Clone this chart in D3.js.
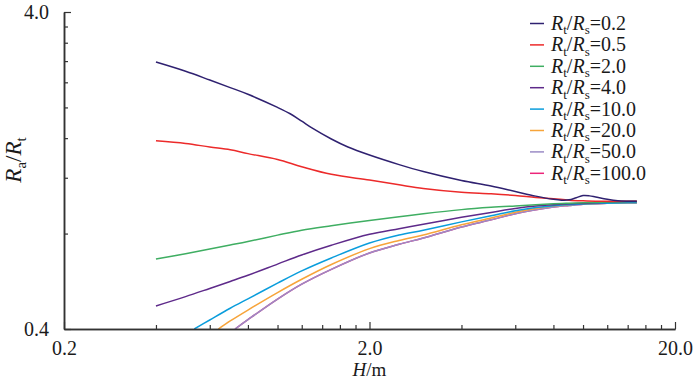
<!DOCTYPE html>
<html>
<head>
<meta charset="utf-8">
<script src="https://cdn.jsdelivr.net/npm/d3@7/dist/d3.min.js"></script>
<style>
  body { margin: 0; background: #fff; }
  text { font-family: "Liberation Serif", "DejaVu Serif", serif; fill: #1a1a1a; }
</style>
</head>
<body>
<svg id="chart" width="700" height="386"></svg>
<script>
const serif = '"Liberation Serif", "DejaVu Serif", serif';

// legend labels (Rt/Rs ratio) and colours
const ratios = ["0.2", "0.5", "2.0", "4.0", "10.0", "20.0", "50.0", "100.0"];
const colors = ["#2f2170", "#ec2a2a", "#3fae62", "#5e2a8a", "#0a9ddc", "#f7a43a", "#9b8cc6", "#ec2579"];

// H values (m) and Ra/Rt
const hMain = [0.4, 0.5, 0.6, 0.7, 0.8, 1.0, 1.2, 1.5, 2.0, 2.5, 3, 4, 5, 6, 7, 8, 9, 10, 11, 12, 13, 14, 15];
const h02 = [0.4, 0.5, 0.6, 0.7, 0.8, 1.0, 1.1, 1.2, 1.3, 1.5, 1.7, 2.0, 2.5, 3, 4, 5, 6, 7, 8, 8.5, 9, 9.5, 10, 10.5, 11, 12, 13, 14, 15];
const r02 = [2.78, 2.60, 2.44, 2.31, 2.20, 2.00, 1.91, 1.81, 1.72, 1.59, 1.50, 1.415, 1.32, 1.255, 1.176, 1.13, 1.086, 1.05, 1.026, 1.02, 1.022, 1.038, 1.054, 1.052, 1.043, 1.026, 1.015, 1.012, 1.012];
const r05 = [1.57, 1.54, 1.50, 1.47, 1.43, 1.37, 1.30, 1.23, 1.18, 1.14, 1.11, 1.08, 1.068, 1.055, 1.04, 1.03, 1.02, 1.015, 1.012, 1.012, 1.012, 1.012, 1.012];
const r2 = [0.665, 0.691, 0.715, 0.736, 0.755, 0.791, 0.820, 0.847, 0.880, 0.904, 0.924, 0.952, 0.968, 0.978, 0.986, 0.993, 0.997, 1.0, 1.003, 1.006, 1.008, 1.01, 1.01];
const r4 = [0.473, 0.506, 0.537, 0.565, 0.591, 0.641, 0.685, 0.735, 0.796, 0.829, 0.856, 0.900, 0.933, 0.960, 0.977, 0.986, 0.993, 0.996, 1.0, 1.005, 1.008, 1.01, 1.01];
const h10 = [0.534, 0.6, 0.7, 0.8, 1.0, 1.2, 1.5, 2.0, 2.5, 3, 4, 5, 6, 7, 8, 9, 10, 11, 12, 13, 14, 15];
const r10 = [0.40, 0.427, 0.465, 0.498, 0.558, 0.610, 0.670, 0.747, 0.792, 0.820, 0.871, 0.910, 0.944, 0.967, 0.980, 0.987, 0.992, 0.995, 0.997, 0.999, 1.0, 1.0];
const h20 = [0.64, 0.7, 0.8, 1.0, 1.2, 1.5, 2.0, 2.5, 3, 4, 5, 6, 7, 8, 9, 10, 11, 12, 13, 14, 15];
const r20 = [0.40, 0.424, 0.459, 0.521, 0.574, 0.639, 0.717, 0.761, 0.792, 0.853, 0.896, 0.934, 0.960, 0.977, 0.986, 0.992, 0.995, 0.997, 0.999, 1.0, 1.0];
const h50 = [0.726, 0.8, 1.0, 1.2, 1.5, 2.0, 2.5, 3, 4, 5, 6, 7, 8, 9, 10, 11, 12, 13, 14, 15];
const r50 = [0.40, 0.428, 0.497, 0.554, 0.617, 0.695, 0.740, 0.775, 0.839, 0.884, 0.924, 0.951, 0.970, 0.981, 0.990, 0.994, 0.997, 0.999, 1.0, 1.0];
const r100 = [0.40, 0.428, 0.497, 0.554, 0.617, 0.695, 0.740, 0.775, 0.839, 0.884, 0.924, 0.951, 0.970, 0.981, 0.990, 0.994, 0.997, 0.999, 1.0, 1.0];

// tick values
const xMajor = [0.2, 2, 20];
const xMinor = [0.4, 0.6, 0.8, 1.0, 1.2, 1.4, 1.6, 1.8, 4, 6, 8, 10, 12, 14, 16, 18];
const yMajor = [0.4, 4];
const yMinor = [0.8, 1.2, 1.6, 2.0, 2.4, 2.8, 3.2, 3.6];

const seriesH = [h02, hMain, hMain, hMain, h10, h20, h50, h50];
const seriesR = [r02, r05, r2, r4, r10, r20, r50, r100];

const svg = d3.select("#chart");
const margin = { top: 12, right: 25, bottom: 57, left: 64 };
const width = 700 - margin.left - margin.right;
const height = 386 - margin.top - margin.bottom;

const g = svg.append("g").attr("transform", `translate(${margin.left},${margin.top})`);

const x = d3.scaleLog().domain([0.2, 20]).range([0, width]);
const y = d3.scaleLog().domain([0.4, 4]).range([height, 0]);

g.append("clipPath").attr("id", "plotClip")
  .append("rect").attr("width", width + 10).attr("height", height).attr("y", 0);

const line = d3.line()
  .x(d => x(d[0]))
  .y(d => y(d[1]))
  .curve(d3.curveCatmullRom.alpha(0.5));

// draw last series first so the first ones sit on top
const lines = g.append("g").attr("clip-path", "url(#plotClip)");
for (let i = ratios.length - 1; i >= 0; i--) {
  const pts = seriesH[i].map((h, j) => [h, seriesR[i][j]]);
  lines.append("path")
    .datum(pts)
    .attr("fill", "none")
    .attr("stroke", colors[i])
    .attr("stroke-width", 1.5)
    .attr("d", line);
}

// axes: minor ticks without labels, major ticks with labels, all pointing inward
const axisColor = "#333";
function styleAxis(sel) {
  sel.attr("font-family", serif).attr("font-size", 20);
  sel.select(".domain").attr("stroke", axisColor).attr("stroke-width", 1.5);
  sel.selectAll(".tick line").attr("stroke", axisColor).attr("stroke-width", 1.2);
  sel.selectAll(".tick text").attr("fill", "#1a1a1a")
    .style("font-family", serif)
    .style("font-size", "20px");
}

g.append("g")
  .attr("transform", `translate(0,${height})`)
  .call(d3.axisBottom(x).tickValues(xMinor).tickSize(-4).tickFormat("").tickSizeOuter(0))
  .call(styleAxis);
g.append("g")
  .attr("transform", `translate(0,${height})`)
  .call(d3.axisBottom(x).tickValues(xMajor).tickSize(-7).tickSizeOuter(0).tickPadding(12).tickFormat(d3.format(".1f")))
  .call(styleAxis);

g.append("g")
  .call(d3.axisLeft(y).tickValues(yMinor).tickSize(-4).tickFormat("").tickSizeOuter(0))
  .call(styleAxis);
g.append("g")
  .call(d3.axisLeft(y).tickValues(yMajor).tickSize(-7).tickSizeOuter(0).tickPadding(15).tickFormat(d3.format(".1f")))
  .call(styleAxis);

// helper for R_x style labels
function ratioText(sel, parts, size) {
  sel.attr("font-family", serif).style("font-family", serif);
  parts.forEach(p => {
    const t = sel.append("tspan").text(p.t);
    if (p.i) t.style("font-style", "italic");
    if (p.sub) t.attr("font-size", size * 0.65).attr("dy", size * 0.22);
    else if (p.after) t.attr("dy", -size * 0.22);
  });
}

// axis titles
const xTitle = g.append("text")
  .attr("x", x(2))
  .attr("y", height + 47)
  .attr("text-anchor", "middle")
  .style("font-size", "19px");
ratioText(xTitle, [{ t: "H", i: true }, { t: "/m" }], 19);

const yTitle = svg.append("text")
  .attr("transform", "translate(21,160) rotate(-90)")
  .attr("text-anchor", "middle")
  .style("font-size", "23px");
ratioText(yTitle, [{ t: "R", i: true }, { t: "a", sub: true }, { t: "/", after: true }, { t: "R", i: true }, { t: "t", sub: true }], 23);

// legend
const legend = svg.append("g").attr("transform", "translate(530,23.5)");
ratios.forEach((r, i) => {
  const row = legend.append("g").attr("transform", `translate(0,${i * 21.4})`);
  row.append("line")
    .attr("x1", 0).attr("x2", 14)
    .attr("stroke", colors[i]).attr("stroke-width", 1.5);
  const t = row.append("text").attr("x", 21).attr("y", 6.5).style("font-size", "20px");
  ratioText(t, [{ t: "R", i: true }, { t: "t", sub: true }, { t: "/", after: true }, { t: "R", i: true }, { t: "s", sub: true }, { t: "=" + r, after: true }], 20);
});
</script>
</body>
</html>
